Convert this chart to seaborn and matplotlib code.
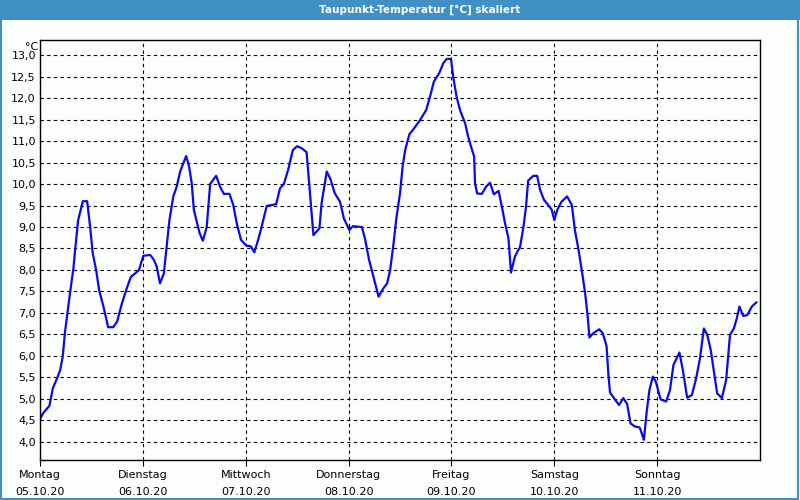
import matplotlib
matplotlib.use("Agg")
import matplotlib.pyplot as plt
import seaborn as sns
import pandas as pd
from matplotlib.patches import Rectangle

# ---- data (hours since Monday 05.10.20 00:00, dew point in °C) ----
hours = [
    0.0, 0.8, 2.2, 3.0, 3.9, 4.7, 5.3, 5.8, 6.4, 7.0, 7.8, 8.2, 8.9, 10.0, 11.0,
    11.7, 12.3, 13.1, 13.8, 14.8, 15.9, 17.1, 18.0, 19.1, 20.1, 21.2, 22.2, 23.1,
    24.1, 25.7, 26.6, 27.2, 28.0, 28.9, 29.4, 30.2, 31.1, 31.9, 32.7, 34.1, 34.8,
    35.4, 35.9, 37.2, 38.0, 38.9, 39.7, 41.1, 42.0, 42.9, 44.2, 45.1, 45.9, 46.9,
    48.1, 49.2, 50.0, 50.9, 51.7, 52.9, 55.1, 56.0, 56.9, 57.9, 59.0, 60.0, 61.1,
    62.2, 62.8, 63.8, 65.2, 65.7, 66.9, 67.7, 68.8, 70.0, 70.9, 72.2, 73.0, 75.1,
    75.8, 76.8, 77.8, 79.0, 80.1, 81.0, 81.7, 82.4, 83.2, 84.0, 84.6, 85.2, 86.2,
    87.1, 88.7, 90.1, 91.0, 91.9, 93.2, 94.1, 94.9, 95.9, 96.4, 97.2, 98.0, 99.2,
    99.9, 100.7, 101.3, 101.5, 102.0, 103.1, 104.1, 105.0, 105.9, 107.0, 107.7,
    108.5, 109.3, 109.9, 110.8, 111.4, 112.0, 112.8, 113.4, 113.9, 115.1, 116.0,
    116.7, 117.6, 118.6, 119.4, 120.0, 120.7, 121.7, 123.0, 124.1, 124.8, 125.6,
    126.4, 127.2, 127.8, 128.2, 129.1, 130.5, 131.3, 132.2, 132.6, 133.0, 134.2,
    135.1, 136.1, 137.0, 137.8, 138.8, 139.8, 140.0, 140.9, 141.6, 142.2, 143.0,
    143.7, 144.8, 146.1, 147.0, 147.8, 149.2, 150.0, 151.0, 152.1, 153.1, 154.0,
    154.9, 155.7, 156.5, 157.3, 158.0, 159.1, 160.1, 161.0, 161.9, 162.6, 163.2,
    164.1, 165.0, 166.1, 167.2,
]
dewpoint = [
    4.53, 4.68, 4.84, 5.25, 5.46, 5.67, 5.98, 6.53, 7.00, 7.46, 8.04, 8.47, 9.16,
    9.60, 9.60, 9.00, 8.39, 8.00, 7.53, 7.15, 6.67, 6.67, 6.80, 7.22, 7.53, 7.84,
    7.92, 8.00, 8.33, 8.35, 8.23, 8.09, 7.69, 7.92, 8.39, 9.16, 9.71, 9.94, 10.29,
    10.65, 10.40, 10.02, 9.40, 8.87, 8.68, 9.00, 10.00, 10.19, 9.94, 9.77, 9.77,
    9.51, 9.09, 8.70, 8.57, 8.55, 8.41, 8.70, 9.00, 9.49, 9.53, 9.90, 10.00, 10.33,
    10.79, 10.88, 10.83, 10.74, 10.02, 8.81, 8.97, 9.55, 10.29, 10.13, 9.78, 9.59,
    9.20, 8.93, 9.02, 9.00, 8.74, 8.23, 7.84, 7.38, 7.57, 7.69, 8.00, 8.54, 9.24,
    9.78, 10.40, 10.79, 11.16, 11.27, 11.49, 11.72, 12.03, 12.38, 12.59, 12.81,
    12.91, 12.91, 12.50, 12.03, 11.72, 11.41, 11.10, 10.83, 10.64, 10.02, 9.78,
    9.77, 9.94, 10.03, 9.76, 9.84, 9.51, 9.09, 8.74, 7.94, 8.31, 8.43, 8.53, 9.00,
    9.47, 10.08, 10.19, 10.19, 9.86, 9.63, 9.51, 9.40, 9.16, 9.40, 9.59, 9.71,
    9.51, 8.93, 8.50, 8.00, 7.46, 6.91, 6.43, 6.53, 6.62, 6.53, 6.23, 5.60, 5.15,
    4.98, 4.86, 5.02, 4.88, 4.43, 4.36, 4.34, 4.32, 4.05, 4.74, 5.21, 5.52, 5.40,
    4.99, 4.94, 5.21, 5.79, 6.08, 5.67, 5.03, 5.09, 5.48, 5.95, 6.64, 6.49, 6.14,
    5.60, 5.13, 5.02, 5.44, 6.49, 6.64, 6.88, 7.15, 6.93, 6.95, 7.15, 7.25,
]
day_names = ["Montag", "Dienstag", "Mittwoch", "Donnerstag", "Freitag", "Samstag", "Sonntag"]
day_dates = ["05.10.20", "06.10.20", "07.10.20", "08.10.20", "09.10.20", "10.10.20", "11.10.20"]
y_ticks = [4.0, 4.5, 5.0, 5.5, 6.0, 6.5, 7.0, 7.5, 8.0, 8.5, 9.0, 9.5, 10.0, 10.5,
           11.0, 11.5, 12.0, 12.5, 13.0]
title = "Taupunkt-Temperatur [°C] skaliert"
unit = "°C"

df = pd.DataFrame({"h": hours, "t": dewpoint})

sns.set_style("white")
plt.rcParams["font.family"] = ["DejaVu Sans"]

BG = "#FCFEFC"
BLUE_BAR = "#4090C6"

fig = plt.figure(figsize=(8, 5), dpi=100, facecolor=BG)
ax = fig.add_axes([0.05, 0.08, 0.90, 0.84])
ax.set_facecolor(BG)

sns.lineplot(data=df, x="h", y="t", ax=ax, color="#0A0AE8", linewidth=1.6)

ax.set_xlim(0, 168)
ax.set_ylim(3.58, 13.35)

ax.set_yticks(y_ticks)
ax.set_yticklabels([f"{v:.1f}".replace(".", ",") for v in y_ticks])
ax.set_xticks([24 * i for i in range(len(day_names))])
ax.set_xticklabels([f"{n}\n{d}" for n, d in zip(day_names, day_dates)], linespacing=1.95)

ax.tick_params(axis="y", length=0, pad=3, labelsize=8, colors="#000000")
ax.tick_params(axis="x", length=4, width=0.8, direction="out", pad=3, labelsize=8,
               colors="#000000", bottom=True)
ax.set_xlabel("")
ax.set_ylabel("")

ax.grid(True, color="#000000", linestyle=(0, (3, 3)), linewidth=0.8)
for s in ax.spines.values():
    s.set_color("#000000")
    s.set_linewidth(1.0)

ax.text(-0.003, 0.995, unit, transform=ax.transAxes, ha="right", va="top",
        fontsize=8, color="#000000")

# title bar and frame
fig.patches.append(Rectangle((0, 0.96), 1, 0.04, transform=fig.transFigure,
                             facecolor=BLUE_BAR, edgecolor="none", zorder=0))
fig.patches.append(Rectangle((0.001, 0.002), 0.997, 0.996, transform=fig.transFigure,
                             facecolor="none", edgecolor=BLUE_BAR, linewidth=1.5, zorder=5))
fig.text(0.525, 0.980, title, ha="center", va="center", color="white",
         fontsize=7.6, fontweight="bold")

fig.savefig("out.png", dpi=100, facecolor=BG)
